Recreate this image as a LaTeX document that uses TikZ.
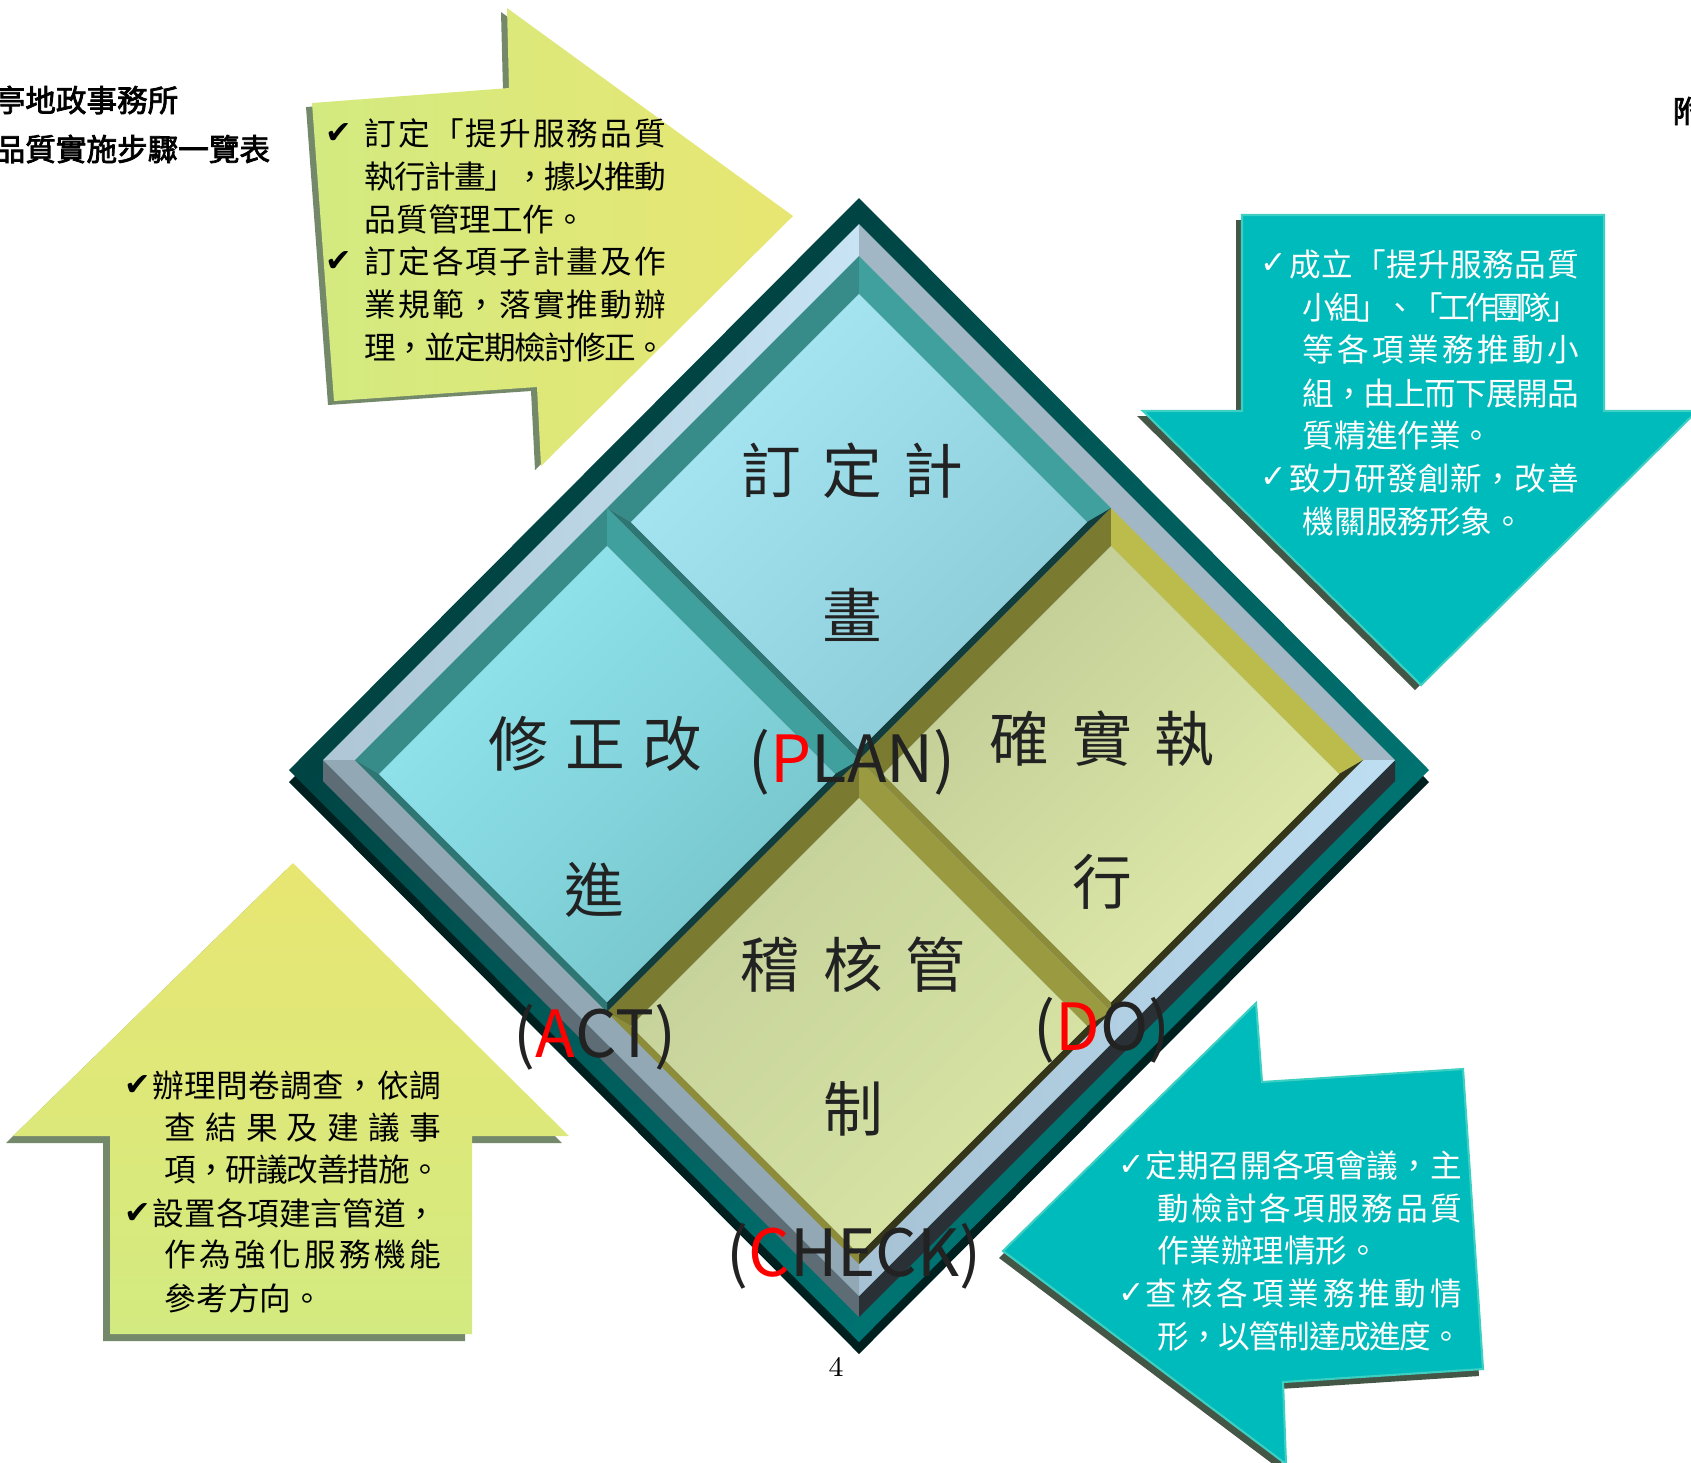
\documentclass[tikz,border=0pt]{standalone}
\usepackage{fontspec}
\usepackage{tikz}
\newfontfamily\cjk{Noto Sans CJK TC}
\newfontfamily\titlefont{Noto Sans CJK TC}[FakeBold=2.5]
\newfontfamily\symfont{DejaVu Sans}

\definecolor{frameDark}{HTML}{003A3A}
\definecolor{frameMid}{HTML}{004646}
\definecolor{frameTeal}{HTML}{007C7A}
\definecolor{frameSide}{HTML}{001F1F}
\definecolor{bandULa}{HTML}{AEC6D5}
\definecolor{bandULb}{HTML}{C8E4F4}
\definecolor{bandUR}{HTML}{A2B7C5}
\definecolor{bandLRa}{HTML}{A6C2D4}
\definecolor{bandLRb}{HTML}{BEDEF2}
\definecolor{bandLL}{HTML}{93A8B5}
\definecolor{bandSideL}{HTML}{5E6C76}
\definecolor{bandSideR}{HTML}{293036}
\definecolor{planA}{HTML}{A8E8F4}
\definecolor{planB}{HTML}{8ACAD6}
\definecolor{actA}{HTML}{92E6EE}
\definecolor{actB}{HTML}{76C4CC}
\definecolor{doA}{HTML}{C0CC96}
\definecolor{doB}{HTML}{E0EAAA}
\definecolor{chkA}{HTML}{C4D09A}
\definecolor{chkB}{HTML}{D8E5A4}
\definecolor{blueUL}{HTML}{378C8A}
\definecolor{blueUR}{HTML}{3FA09E}
\definecolor{blueLR}{HTML}{123D3D}
\definecolor{blueLL}{HTML}{2E7674}
\definecolor{yelUL}{HTML}{7A7A30}
\definecolor{yelUR}{HTML}{BCBC4C}
\definecolor{chkUR}{HTML}{9A9A40}
\definecolor{yelLR}{HTML}{35351A}
\definecolor{yelLL}{HTML}{8C8C3A}
\definecolor{arrowGreen}{HTML}{D3EA80}
\definecolor{arrowYellow}{HTML}{E8E672}
\definecolor{arrowEdge}{HTML}{74886A}
\definecolor{tealFill}{HTML}{00BBBB}
\definecolor{tealRim}{HTML}{3CCFC2}
\definecolor{tealEdge}{HTML}{445746}
\definecolor{bigtext}{HTML}{222222}
\definecolor{lblred}{HTML}{FF0000}

% one picture unit = one pixel of the page
\newlength{\pxu}
\setlength{\pxu}{0.01cm}
% spread the characters of a line over a given width
\def\spreadfirst#1{#1\spreadrest}
\def\spreadrest#1{\ifx#1\relax\else\hskip 0pt plus 1fil minus 0.3em\relax#1\expandafter\spreadrest\fi}
\newcommand{\jl}[2]{\makebox[#1\pxu][s]{\spreadfirst#2\relax}}

\begin{document}
\begin{tikzpicture}[x=0.01cm, y=-0.01cm,
  edge/.style n args={3}{preaction={fill=#1, transform canvas={shift={(#2,#3)}}}},
  txt/.style={anchor=west, inner sep=0pt, font=\cjk\fontsize{9}{11}\selectfont},
  chk/.style={inner sep=0pt, font=\symfont\fontsize{9}{11}\selectfont},
  big/.style={inner sep=0pt, text=bigtext, font=\cjk\fontsize{17}{20}\selectfont},
  lbl/.style={inner sep=0pt, text=bigtext, font=\cjk\fontsize{18.5}{22}\selectfont}]
  \useasboundingbox (0,0) rectangle (1691,1462);
  \clip (0,0) rectangle (1691,1462);

  % Arrows around the square
  \path[edge={arrowEdge}{-6}{4}, left color=arrowGreen, right color=arrowYellow]
    (312,103) -- (509,88) -- (507,8) -- (793,216) -- (541,466) -- (537,387) -- (334,401) -- cycle;
  \path[edge={tealEdge}{-6}{5}, fill=tealFill, draw=tealRim, line width=0.6pt]
    (1242,215) -- (1604,215) -- (1604,411) -- (1697,411) -- (1421,685) -- (1143,411) -- (1242,411) -- cycle;
  \path[edge={tealEdge}{-4}{7}, fill=tealFill, draw=tealRim, line width=0.6pt]
    (1003,1251) -- (1256,1003) -- (1262,1082) -- (1463,1069) -- (1483,1369) -- (1283,1382) -- (1286,1464) -- cycle;
  \path[edge={arrowEdge}{-7}{7}, top color=arrowYellow, bottom color=arrowGreen]
    (293,863) -- (569,1136) -- (472,1136) -- (472,1334) -- (110,1334) -- (110,1136) -- (13,1136) -- cycle;

  % Outer frame
  \fill[frameSide] (859,210) -- (1429,782) -- (859,1354) -- (289,782) -- cycle;
  \shade[top color=frameDark, middle color=frameMid, bottom color=frameTeal, shading angle=45]
    (859,198) -- (1429,770) -- (859,1342) -- (289,770) -- cycle;

  % Light band
  \fill[bandSideL] (323,760) -- (859,1296) -- (859,1317) -- (323,781) -- cycle;
  \fill[bandSideR] (859,1296) -- (1395,760) -- (1395,781) -- (859,1317) -- cycle;
  \shade[left color=bandULa, right color=bandULb] (859,760) -- (323,760) -- (859,224) -- cycle;
  \fill[bandUR] (859,760) -- (859,224) -- (1395,760) -- cycle;
  \shade[left color=bandLRa, right color=bandLRb] (859,760) -- (1395,760) -- (859,1296) -- cycle;
  \fill[bandLL] (859,760) -- (859,1296) -- (323,760) -- cycle;

  % Four bevelled tiles
  \foreach \cx/\cy/\facea/\faceb/\cul/\cur/\clr/\cll in {
      859/508/planA/planB/blueUL/blueUR/blueLR/blueLL,
      607/760/actA/actB/blueUL/blueUR/blueLR/blueLL,
      1111/760/doA/doB/yelUL/yelUR/yelLR/yelLL,
      859/1012/chkA/chkB/yelUL/chkUR/yelLR/yelLL} {
    \fill[\cul] (\cx-252,\cy) -- (\cx,\cy-252) -- (\cx,\cy-214) -- (\cx-228,\cy+14) -- cycle;
    \fill[\cur] (\cx,\cy-252) -- (\cx+252,\cy) -- (\cx+228,\cy+14) -- (\cx,\cy-214) -- cycle;
    \fill[\clr] (\cx+252,\cy) -- (\cx,\cy+252) -- (\cx,\cy+242) -- (\cx+228,\cy+14) -- cycle;
    \fill[\cll] (\cx,\cy+252) -- (\cx-252,\cy) -- (\cx-228,\cy+14) -- (\cx,\cy+242) -- cycle;
    \shade[top color=\facea, bottom color=\faceb, shading angle=45]
      (\cx-228,\cy+14) -- (\cx,\cy-214) -- (\cx+228,\cy+14) -- (\cx,\cy+242) -- cycle;
  }

  % Tile texts
  \node[big] (plan1) at (852,471) {\jl{222}{訂定計}};
  \node[big] (plan2) at (852,615) {畫};
  \node[big] (act1) at (595,744) {\jl{214}{修正改}};
  \node[big] (act2) at (594,890) {進};
  \node[big] (do1) at (1102,739) {\jl{225}{確實執}};
  \node[big] (do2) at (1102,882) {行};
  \node[big] (check1) at (853,965) {\jl{225}{稽核管}};
  \node[big] (check2) at (853,1109) {制};
  \node[lbl] (planlbl) at (852,762) {(\textcolor{lblred}{P}LAN)};
  \node[lbl] (actlbl) at (595,1037) {(\textcolor{lblred}{A}CT)};
  \node[lbl] (dolbl) at (1102,1030) {(\textcolor{lblred}{D}O)};
  \node[lbl] (checklbl) at (854,1256) {(\textcolor{lblred}{C}HECK)};

  % Plan arrow text
  \node[chk] (planck1) at (339,133) {✔};
  \node[chk] (planck2) at (339,261) {✔};
  \node[txt] (plantx1) at (364,133) {\jl{301}{訂定「提升服務品質}};
  \node[txt] (plantx2) at (364,176) {\jl{301}{執行計畫」，據以推動}};
  \node[txt] (plantx3) at (364,219) {品質管理工作。};
  \node[txt] (plantx4) at (364,261) {\jl{301}{訂定各項子計畫及作}};
  \node[txt] (plantx5) at (364,304) {\jl{301}{業規範，落實推動辦}};
  \node[txt] (plantx6) at (364,347) {\jl{301}{理，並定期檢討修正。}};

  % Do arrow text
  \begin{scope}[every node/.append style={text=white}]
    \node[chk] (dock1) at (1274,264) {✓};
    \node[chk] (dock2) at (1274,478) {✓};
    \node[txt] (dotx1) at (1289,264) {\jl{289}{成立「提升服務品質}};
    \node[txt] (dotx2) at (1302,307) {\jl{276}{小組」、「工作團隊」}};
    \node[txt] (dotx3) at (1302,349) {\jl{276}{等各項業務推動小}};
    \node[txt] (dotx4) at (1302,393) {\jl{276}{組，由上而下展開品}};
    \node[txt] (dotx5) at (1302,436) {質精進作業。};
    \node[txt] (dotx6) at (1289,478) {\jl{289}{致力研發創新，改善}};
    \node[txt] (dotx7) at (1302,521) {機關服務形象。};

  % Check arrow text
    \node[chk] (checkck1) at (1132,1165) {✓};
    \node[chk] (checkck2) at (1132,1293) {✓};
    \node[txt] (checktx1) at (1145,1165) {\jl{316}{定期召開各項會議，主}};
    \node[txt] (checktx2) at (1157,1208) {\jl{304}{動檢討各項服務品質}};
    \node[txt] (checktx3) at (1157,1251) {作業辦理情形。};
    \node[txt] (checktx4) at (1145,1293) {\jl{316}{查核各項業務推動情}};
    \node[txt] (checktx5) at (1157,1336) {\jl{304}{形，以管制達成進度。}};
  \end{scope}

  % Act arrow text
  \node[chk] (actck1) at (138,1085) {✔};
  \node[chk] (actck2) at (138,1213) {✔};
  \node[txt] (acttx1) at (152,1085) {\jl{288}{辦理問卷調查，依調}};
  \node[txt] (acttx2) at (164,1128) {\jl{276}{查結果及建議事}};
  \node[txt] (acttx3) at (164,1170) {\jl{276}{項，研議改善措施。}};
  \node[txt] (acttx4) at (152,1213) {設置各項建言管道，};
  \node[txt] (acttx5) at (164,1255) {\jl{276}{作為強化服務機能}};
  \node[txt] (acttx6) at (164,1298) {參考方向。};

  % Page heading and number
  \node[anchor=west, inner sep=0pt, font=\titlefont\fontsize{8.7}{10}\selectfont] (head1) at (-6,100) {亭地政事務所};
  \node[anchor=west, inner sep=0pt, font=\titlefont\fontsize{8.7}{10}\selectfont] (head2) at (-6,149) {品質實施步驟一覽表};
  \node[anchor=west, inner sep=0pt, font=\titlefont\fontsize{8.7}{10}\selectfont] (annex) at (1672,111) {附};
  \node[inner sep=0pt, font=\fontsize{8}{10}\selectfont] (pagenum) at (836,1367) {4};
\end{tikzpicture}
\end{document}
